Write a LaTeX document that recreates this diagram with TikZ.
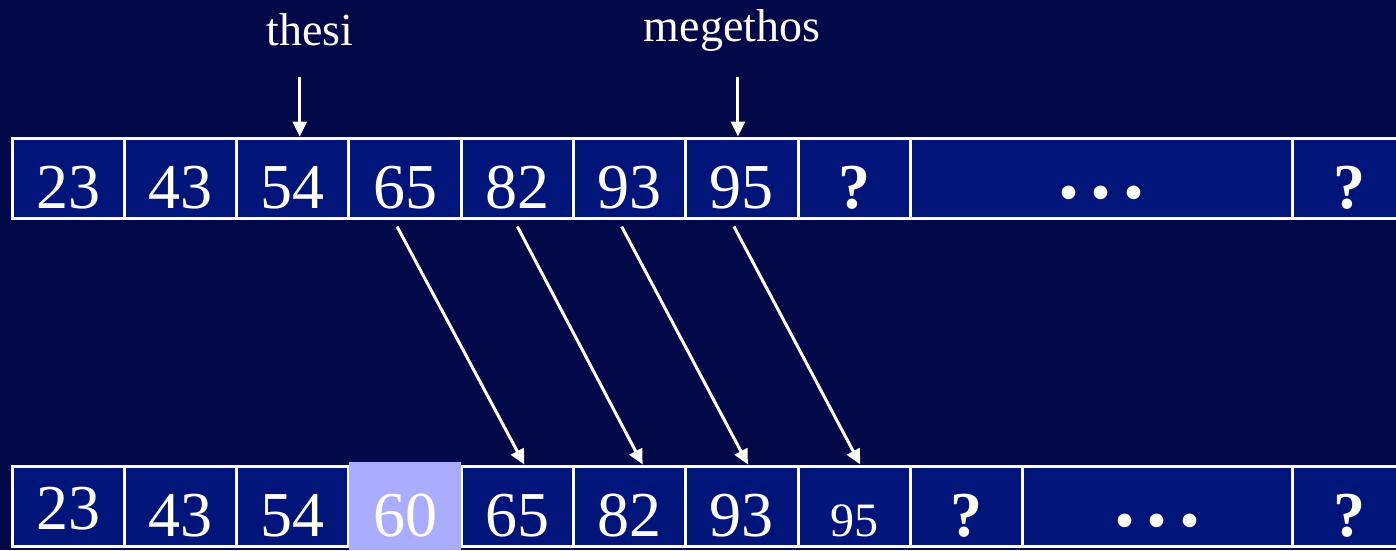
\documentclass[tikz,border=0pt]{standalone}
\usepackage{fontspec}
\setmainfont{Liberation Serif}
\usetikzlibrary{arrows.meta}
\begin{document}
\begin{tikzpicture}[x=1pt,y=-1pt]
\newcommand{\cellw}{112.3}
\newcommand{\cellx}{12}
\newcommand{\mydots}{\raisebox{10pt}{\fontsize{84}{84}\selectfont .\hspace{12pt}.\hspace{12pt}.}}
\definecolor{bgcolor}{RGB}{2,8,72}
\definecolor{cellcolor}{RGB}{0,20,122}
\definecolor{markcolor}{RGB}{170,172,255}
\tikzstyle{cell}=[draw=white,line width=3pt,fill=cellcolor,text=white,minimum height=80pt,inner sep=0pt,text height=61pt,text depth=0pt,font=\fontsize{64}{64}\selectfont]
\tikzstyle{box}=[cell,minimum width=\cellw pt]
\tikzstyle{qmark}=[box,font=\fontsize{64}{64}\selectfont\bfseries]
\tikzstyle{label}=[text=white,font=\fontsize{46}{46}\selectfont]
\tikzstyle{move}=[white,line width=3pt,-{Triangle[width=14pt,length=15pt]}]
\useasboundingbox (0,0) rectangle (1396,550);
\fill[bgcolor] (0,0) rectangle (1396,550);
% top row
\node[box] (t0) at (\cellx+\cellw*0.5,178) {23};
\node[box] (t1) at (\cellx+\cellw*1.5,178) {43};
\node[box] (t2) at (\cellx+\cellw*2.5,178) {54};
\node[box] (t3) at (\cellx+\cellw*3.5,178) {65};
\node[box] (t4) at (\cellx+\cellw*4.5,178) {82};
\node[box] (t5) at (\cellx+\cellw*5.5,178) {93};
\node[box] (t6) at (\cellx+\cellw*6.5,178) {95};
\node[qmark] (t7) at (\cellx+\cellw*7.5,178) {?};
\node[qmark,minimum width=383pt] (t8) at (1101.5,178) {\mydots};
\node[qmark] (t9) at (1349,178) {?};
% bottom row
\node[box] (b0) at (\cellx+\cellw*0.5,506) {\raisebox{7pt}{23}};
\node[box] (b1) at (\cellx+\cellw*1.5,506) {43};
\node[box] (b2) at (\cellx+\cellw*2.5,506) {54};
\node[box] (b4) at (\cellx+\cellw*4.5,506) {65};
\node[box] (b5) at (\cellx+\cellw*5.5,506) {82};
\node[box] (b6) at (\cellx+\cellw*6.5,506) {93};
\node[box,font=\fontsize{48}{48}\selectfont] (b7) at (\cellx+\cellw*7.5,506) {95};
\node[qmark] (b8) at (\cellx+\cellw*8.5,506) {?};
\node[qmark,minimum width=271pt] (b9) at (1157.5,506) {\mydots};
\node[qmark] (b10) at (1349,506) {?};
\node[cell,draw=none,fill=markcolor,minimum width=112pt,minimum height=88pt] (b3) at (\cellx+\cellw*3.5,506) {60};
% labels
\node[label] (thesi) at (310,30) {thesi};
\node[label] (megethos) at (732,30) {megethos};
\draw[move] ([xshift=7pt,yshift=60pt]t2.north) -- ([xshift=7pt]t2.north);
\draw[move] ([xshift=-4pt,yshift=60pt]t6.north) -- ([xshift=-4pt]t6.north);
% shifted cells
\draw[move] ([xshift=-8pt,yshift=-7pt]t3.south) -- ([xshift=7pt]b4.north);
\draw[move] ([xshift=0pt,yshift=-7pt]t4.south) -- ([xshift=13pt]b5.north);
\draw[move] ([xshift=-8pt,yshift=-7pt]t5.south) -- ([xshift=6pt]b6.north);
\draw[move] ([xshift=-8pt,yshift=-7pt]t6.south) -- ([xshift=6pt]b7.north);
\end{tikzpicture}
\end{document}
